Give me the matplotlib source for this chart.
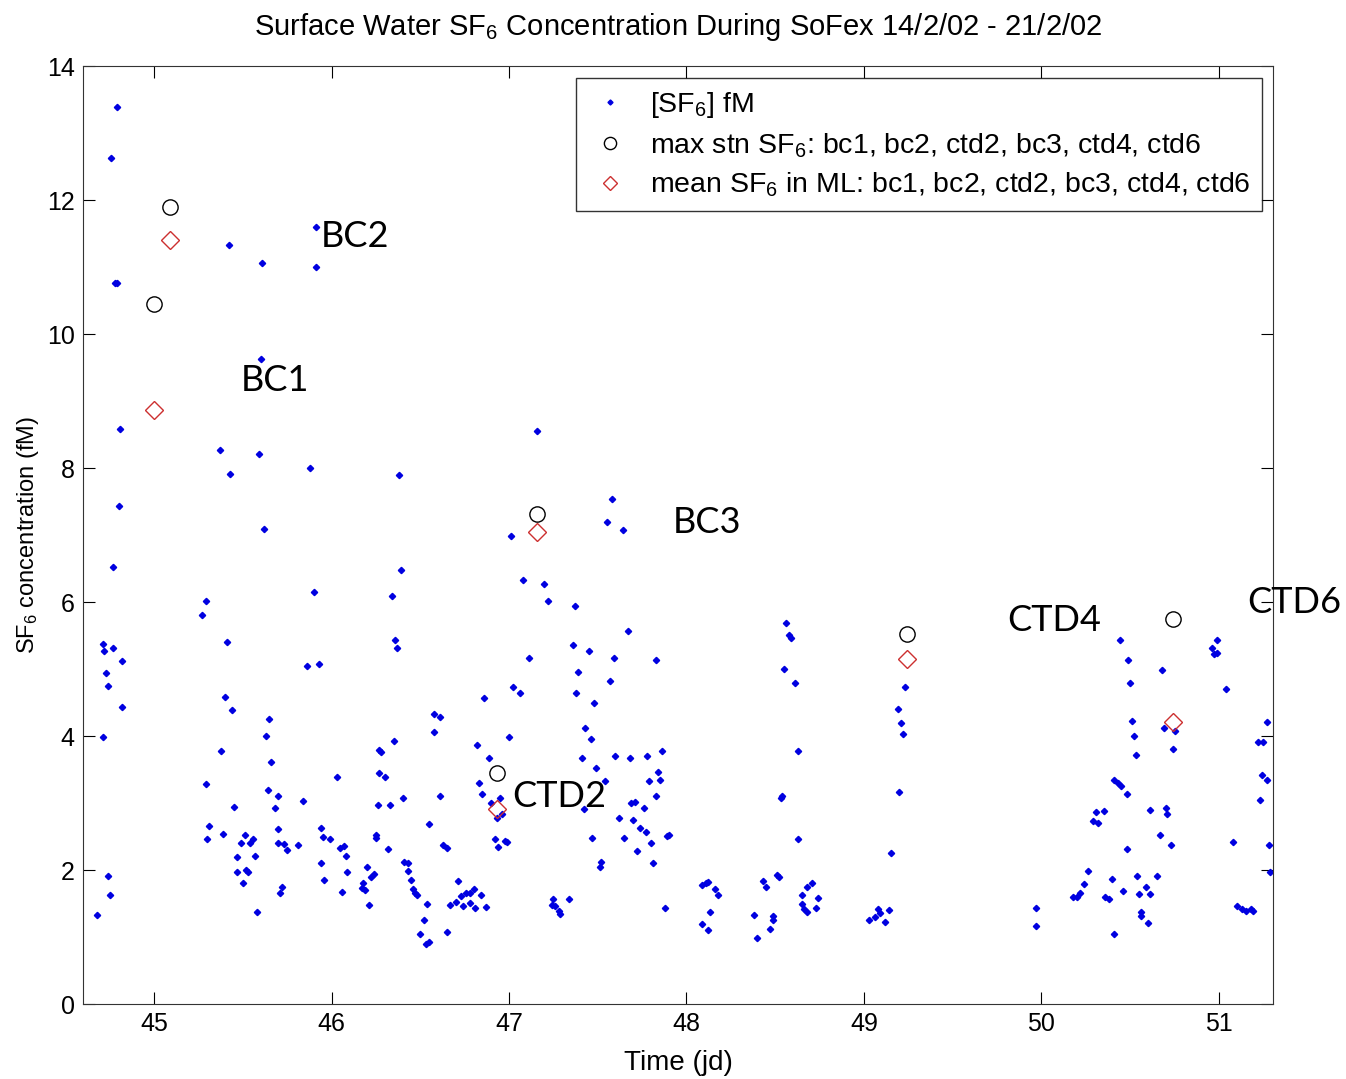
import matplotlib
matplotlib.use("Agg")
import matplotlib.pyplot as plt

plt.rcParams['font.family'] = ['Liberation Sans', 'DejaVu Sans']
plt.rcParams['mathtext.default'] = 'regular'

# underway surface samples (time in julian day, SF6 in fM)
time_jd = [
    44.79, 44.76, 45.42, 45.61, 45.91, 45.91, 44.78, 44.79, 45.60, 44.81,
    45.37, 45.59, 45.43, 45.88, 44.80, 45.62,
    44.77, 45.29, 45.27, 45.41, 45.90, 45.86, 45.93, 44.71, 44.72, 44.77,
    44.82, 44.73, 44.74, 44.82, 44.71, 45.40, 45.44, 45.65, 45.63, 45.38,
    45.66, 46.03, 46.27, 46.27, 45.29, 45.64, 45.70, 45.68, 45.84, 45.45,
    46.26, 45.31, 45.30, 45.39, 45.51, 45.49, 45.54, 45.56, 45.47, 45.57,
    45.47, 45.52, 45.53, 45.50, 45.70, 45.70, 45.73, 45.75, 45.81, 45.72,
    45.71, 45.58, 45.94, 45.95, 45.99, 45.94, 45.96, 46.05, 46.07, 46.08,
    46.09, 46.06, 46.25, 46.20, 46.24, 46.22, 46.18, 46.17, 46.19, 46.21,
    44.74, 44.75, 44.68,
    47.16, 46.38, 47.01, 47.58, 47.55, 47.64, 46.39, 46.34, 47.08, 47.20,
    47.22, 47.37, 47.67, 46.36, 46.37, 47.36, 47.45, 47.11, 47.59, 47.83,
    47.39, 47.57, 47.02, 47.06, 47.38, 46.86, 47.48, 46.58, 46.61, 46.58,
    47.00, 47.43, 47.46, 46.82, 46.89, 47.41, 47.60, 47.68, 47.78, 47.86,
    47.49, 47.84, 47.79, 47.85, 47.54, 46.28, 46.35, 46.30, 46.40, 46.61,
    46.83, 46.85, 46.95, 46.90, 46.96, 46.93, 46.33, 47.42, 47.69, 47.71,
    47.76, 47.83, 47.62, 47.70, 47.74, 47.77, 47.80, 47.81, 47.72, 47.65,
    47.47, 47.90, 46.55, 46.25, 46.32, 46.63, 46.65, 46.92, 46.94, 46.98,
    46.99, 47.52, 47.51, 46.41, 46.43, 46.43, 46.45, 46.46, 46.47, 46.48,
    46.54, 46.52, 46.50, 46.53, 46.55, 46.65, 46.71, 46.67, 46.70, 46.73,
    46.74, 46.76, 46.78, 46.80, 46.78, 46.81, 46.84, 46.87, 47.25, 47.24,
    47.26, 47.28, 47.29, 47.34, 47.88,
    47.89, 48.56, 48.58, 48.59, 48.55, 48.61, 48.63, 48.53, 48.54, 48.63,
    48.09, 48.11, 48.12, 48.16, 48.18, 48.13, 48.09, 48.12, 48.43, 48.45,
    48.51, 48.52, 48.38, 48.49, 48.49, 48.47, 48.40, 48.68, 48.71, 48.65,
    48.74, 48.65, 48.73, 48.66, 48.68, 49.03, 49.06, 49.08, 49.09, 49.14,
    49.12, 49.15, 49.20, 49.19, 49.21, 49.22, 49.23,
    49.97, 49.97, 50.44, 50.49, 50.50, 50.68, 50.99, 50.96, 50.97, 50.99,
    51.04, 50.51, 50.52, 50.53, 50.69, 50.75, 50.74, 51.27, 51.22, 51.25,
    51.24, 51.27, 51.23, 51.28, 51.29, 50.41, 50.43, 50.45, 50.48, 50.31,
    50.35, 50.29, 50.32, 50.61, 50.70, 50.71, 50.67, 50.73, 50.48, 51.08,
    50.26, 50.24, 50.22, 50.20, 50.18, 50.40, 50.46, 50.36, 50.38, 50.41,
    50.54, 50.59, 50.55, 50.61, 50.65, 50.56, 50.56, 50.60, 51.10, 51.13,
    51.15, 51.18, 51.19,
]
sf6_fM = [
    13.39, 12.63, 11.33, 11.06, 11.60, 11.00, 10.76, 10.76, 9.63, 8.58,
    8.27, 8.21, 7.91, 8.00, 7.43, 7.09,
    6.53, 6.01, 5.80, 5.40, 6.15, 5.04, 5.07, 5.38, 5.27, 5.31,
    5.12, 4.94, 4.75, 4.43, 3.99, 4.58, 4.39, 4.25, 4.00, 3.78,
    3.61, 3.39, 3.79, 3.45, 3.28, 3.20, 3.11, 2.92, 3.03, 2.94,
    2.97, 2.65, 2.46, 2.54, 2.52, 2.40, 2.40, 2.46, 2.19, 2.21,
    1.97, 2.00, 1.97, 1.81, 2.61, 2.40, 2.39, 2.30, 2.38, 1.74,
    1.66, 1.37, 2.63, 2.50, 2.46, 2.11, 1.85, 2.33, 2.36, 2.21,
    1.97, 1.67, 2.52, 2.04, 1.94, 1.89, 1.81, 1.73, 1.70, 1.48,
    1.91, 1.62, 1.33,
    8.55, 7.90, 6.98, 7.54, 7.19, 7.08, 6.48, 6.09, 6.33, 6.27,
    6.02, 5.94, 5.56, 5.44, 5.32, 5.36, 5.27, 5.17, 5.17, 5.14,
    4.96, 4.82, 4.73, 4.64, 4.64, 4.56, 4.50, 4.33, 4.29, 4.06,
    3.99, 4.12, 3.96, 3.86, 3.67, 3.67, 3.70, 3.67, 3.70, 3.77,
    3.52, 3.47, 3.33, 3.35, 3.33, 3.76, 3.92, 3.39, 3.08, 3.10,
    3.30, 3.13, 3.07, 3.00, 2.84, 2.77, 2.97, 2.91, 3.00, 3.02,
    2.92, 3.10, 2.77, 2.75, 2.63, 2.56, 2.41, 2.10, 2.29, 2.48,
    2.48, 2.52, 2.69, 2.48, 2.32, 2.37, 2.33, 2.46, 2.34, 2.44,
    2.42, 2.12, 2.04, 2.12, 2.10, 1.98, 1.85, 1.72, 1.66, 1.62,
    1.50, 1.25, 1.04, 0.89, 0.92, 1.08, 1.83, 1.48, 1.53, 1.61,
    1.47, 1.65, 1.66, 1.71, 1.51, 1.43, 1.62, 1.45, 1.57, 1.48,
    1.47, 1.39, 1.34, 1.57, 1.43,
    2.51, 5.69, 5.51, 5.47, 5.00, 4.79, 3.77, 3.07, 3.10, 2.46,
    1.77, 1.80, 1.82, 1.71, 1.63, 1.38, 1.19, 1.10, 1.83, 1.75,
    1.92, 1.90, 1.33, 1.32, 1.26, 1.12, 0.98, 1.75, 1.81, 1.62,
    1.58, 1.50, 1.44, 1.42, 1.37, 1.25, 1.30, 1.42, 1.36, 1.40,
    1.23, 2.25, 3.17, 4.40, 4.19, 4.03, 4.73,
    1.44, 1.17, 5.44, 5.13, 4.79, 4.99, 5.44, 5.32, 5.23, 5.24,
    4.70, 4.23, 4.00, 3.72, 4.12, 4.07, 3.80, 4.21, 3.91, 3.91,
    3.42, 3.34, 3.05, 2.38, 1.97, 3.34, 3.30, 3.26, 3.13, 2.86,
    2.88, 2.73, 2.70, 2.90, 2.92, 2.84, 2.52, 2.38, 2.31, 2.42,
    1.98, 1.79, 1.66, 1.59, 1.59, 1.87, 1.68, 1.59, 1.56, 1.04,
    1.91, 1.75, 1.64, 1.64, 1.91, 1.38, 1.31, 1.21, 1.46, 1.42,
    1.39, 1.42, 1.39,
]

# station values: bc1, bc2, ctd2, bc3, ctd4, ctd6
stations = ['BC1', 'BC2', 'CTD2', 'BC3', 'CTD4', 'CTD6']
stn_time = [45.00, 45.09, 46.93, 47.16, 49.24, 50.74]
stn_max = [10.45, 11.90, 3.45, 7.31, 5.53, 5.75]
stn_mean_ml = [8.87, 11.41, 2.91, 7.04, 5.15, 4.21]

# label anchor points (data coords) for station names
label_x = [45.49, 45.94, 47.02, 47.92, 49.81, 51.16]
label_y = [9.31, 11.46, 3.10, 7.18, 5.73, 6.00]

fig = plt.figure(figsize=(13.46, 10.79), dpi=100)
ax = fig.add_axes([0.0617, 0.0695, 0.8841, 0.8693])

ax.plot(time_jd, sf6_fM, linestyle='none', marker='D', markersize=3.2,
        color='#0000e0', label='[SF$_6$] fM')
ax.plot(stn_time, stn_max, linestyle='none', marker='o', markersize=11,
        markerfacecolor='none', markeredgecolor='black', markeredgewidth=1.0,
        label='max stn SF$_6$: bc1, bc2, ctd2, bc3, ctd4, ctd6')
ax.plot(stn_time, stn_mean_ml, linestyle='none', marker='D', markersize=9,
        markerfacecolor='none', markeredgecolor='#cc3030', markeredgewidth=1.0,
        label='mean SF$_6$ in ML: bc1, bc2, ctd2, bc3, ctd4, ctd6')

for name, lx, ly in zip(stations, label_x, label_y):
    ax.text(lx, ly, name, fontsize=26, family=['Lato', 'DejaVu Sans'],
            va='center', ha='left', clip_on=False)

ax.set_xlim(44.6, 51.305)
ax.set_ylim(0, 14)
ax.set_xticks([45, 46, 47, 48, 49, 50, 51])
ax.set_yticks([0, 2, 4, 6, 8, 10, 12, 14])
ax.tick_params(direction='in', length=8.5, top=True, right=True,
               labelsize=18, pad=6)
for s in ax.spines.values():
    s.set_color('#333333')

ax.set_title('Surface Water SF$_6$ Concentration During SoFex 14/2/02 - 21/2/02',
             fontsize=21, pad=22)
ax.set_xlabel('Time (jd)', fontsize=20, labelpad=10)
ax.set_ylabel('SF$_6$ concentration (fM)', fontsize=17, labelpad=4)

leg = ax.legend(loc='upper right', bbox_to_anchor=(0.9908, 0.987), fontsize=20.5,
                frameon=True, fancybox=False, edgecolor='black',
                borderaxespad=0, handletextpad=0.6, borderpad=0.4,
                labelspacing=0.4, markerscale=0.8, handlelength=1.6)
leg.get_frame().set_linewidth(1.0)

plt.savefig('out.png', dpi=100)
